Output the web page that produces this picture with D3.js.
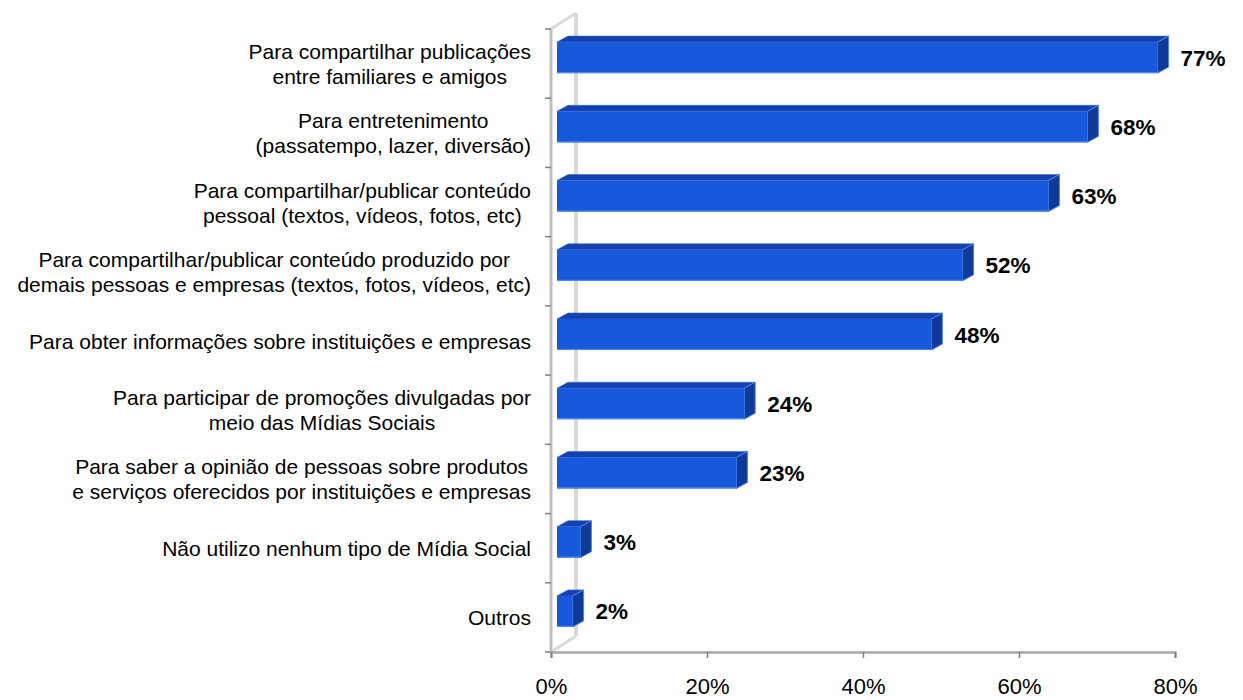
<!DOCTYPE html>
<html><head><meta charset="utf-8">
<script src="https://cdn.jsdelivr.net/npm/d3@7"></script>
<style>body{margin:0;background:#fff}svg{display:block}text{font-family:"Liberation Sans",Arial,sans-serif}</style>
</head><body><svg id="c" width="1243" height="700"></svg>
<script>
const categories = [
  ["Para compartilhar publicações","entre familiares e amigos"],
  ["Para entretenimento","(passatempo, lazer, diversão)"],
  ["Para compartilhar/publicar conteúdo","pessoal (textos, vídeos, fotos, etc)"],
  ["Para compartilhar/publicar conteúdo produzido por","demais pessoas e empresas (textos, fotos, vídeos, etc)"],
  ["Para obter informações sobre instituições e empresas"],
  ["Para participar de promoções divulgadas por","meio das Mídias Sociais"],
  ["Para saber a opinião de pessoas sobre produtos","e serviços oferecidos por instituições e empresas"],
  ["Não utilizo nenhum tipo de Mídia Social"],
  ["Outros"]
];
const values = [77, 68, 63, 52, 48, 24, 23, 3, 2];
const tickValues = [0, 20, 40, 60, 80];

const svg = d3.select("#c");
const x0 = 551, x1 = 1175, yTop = 29, yBot = 652;
const wdx = 25, wdy = -16;           // wall depth offset
const bdx = 6, bdy = -6;             // bar front offset
const sdx = 11, sdy = -6;            // bar side depth
const x = d3.scaleLinear().domain([0, 80]).range([x0, x1]);
const y = d3.scaleBand().domain(d3.range(categories.length)).range([yTop, yBot]);
const barH = 31;

// wall
const wall = svg.append("g");
wall.append("line").attr("x1", x0+wdx).attr("y1", yTop+wdy).attr("x2", x0+wdx).attr("y2", yBot+wdy)
  .attr("stroke", "#d9d9d9").attr("stroke-width", 4);
wall.append("line").attr("x1", x0).attr("y1", yTop).attr("x2", x0+wdx).attr("y2", yTop+wdy)
  .attr("stroke", "#d9d9d9").attr("stroke-width", 3);
wall.append("line").attr("x1", x0).attr("y1", yBot).attr("x2", x0+wdx).attr("y2", yBot+wdy)
  .attr("stroke", "#d9d9d9").attr("stroke-width", 3);
wall.append("line").attr("x1", x0).attr("y1", yTop).attr("x2", x0).attr("y2", yBot)
  .attr("stroke", "#bfbfbf").attr("stroke-width", 3);

// y ticks
svg.append("g").selectAll("line").data(d3.range(categories.length + 1)).join("line")
  .attr("x1", x0 - 6).attr("x2", x0)
  .attr("y1", i => yTop + i * y.step()).attr("y2", i => yTop + i * y.step())
  .attr("stroke", "#808080").attr("stroke-width", 1.5);

// x axis
const xa = svg.append("g").attr("transform", `translate(0,${yBot})`)
  .call(d3.axisBottom(x).tickValues(tickValues).tickFormat(d => d + "%").tickSize(6).tickPadding(20));
xa.select(".domain").attr("stroke", "#a6a6a6").attr("stroke-width", 2.5);
xa.selectAll(".tick line").attr("stroke", "#808080").attr("stroke-width", 1.5);
xa.selectAll(".tick text").attr("font-size", 22).attr("fill", "#000")
  .attr("font-family", '"Liberation Sans",Arial,sans-serif');

// bars
const bars = svg.append("g").selectAll("g").data(values).join("g");
const fx = d => x0 + bdx;
const fw = d => x(d) - x0;
const fy = (d, i) => y(i) + y.bandwidth() / 2 + bdy - barH / 2;
bars.each(function(d, i) {
  const g = d3.select(this);
  const X = fx(d), W = fw(d), Y = fy(d, i);
  // top
  g.append("path").attr("d", `M${X},${Y} L${X+sdx},${Y+sdy} L${X+W+sdx},${Y+sdy} L${X+W},${Y} Z`)
    .attr("fill", "#1541b0").attr("stroke", "#2f66d8").attr("stroke-width", 0.6);
  // side
  g.append("path").attr("d", `M${X+W},${Y} L${X+W+sdx},${Y+sdy} L${X+W+sdx},${Y+barH+sdy} L${X+W},${Y+barH} Z`)
    .attr("fill", "#0f3a98").attr("stroke", "#4d84ee").attr("stroke-width", 1);
  // front
  g.append("rect").attr("x", X).attr("y", Y).attr("width", W).attr("height", barH)
    .attr("fill", "#1858db");
  g.append("path").attr("d", `M${X},${Y+barH-0.5} L${X+W},${Y+barH-0.5}`)
    .attr("stroke", "#4f87f2").attr("stroke-width", 1.2);
  g.append("text").attr("x", X + W + sdx + 12).attr("y", Y + barH / 2 + 8)
    .attr("font-size", 22.5).attr("font-weight", "bold").attr("fill", "#000").text(d + "%");
});

// category labels
const labelRight = 531, lineH = 25;
const lab = svg.append("g").selectAll("g").data(categories).join("g");
lab.each(function(lines, i) {
  const g = d3.select(this);
  const cy = y(i) + y.bandwidth() / 2;
  const ts = lines.map((s, k) => g.append("text").attr("font-size", 21).attr("fill", "#000")
    .attr("text-anchor", "middle").attr("y", cy + (k - (lines.length - 1) / 2) * lineH + 8).text(s));
  const maxW = d3.max(ts, t => t.node().getComputedTextLength());
  ts.forEach(t => t.attr("x", labelRight - maxW / 2));
});
</script></body></html>
